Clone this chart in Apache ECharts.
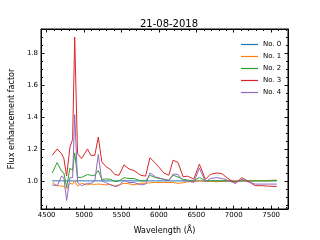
<!DOCTYPE html>
<html><head><meta charset="utf-8">
<script src="https://cdn.jsdelivr.net/npm/echarts@6/dist/echarts.min.js"></script>
<style>html,body{margin:0;padding:0;background:#fff}#c{width:320px;height:240px}</style>
</head><body><div id="c"></div>
<script>
var title = '21-08-2018';
var seriesNames = ['No. 0', 'No. 1', 'No. 2', 'No. 3', 'No. 4'];
var wavelength = [4575,4640,4700,4730,4767,4811,4847,4875,4913,4967,5046,5090,5144,5190,5237,5290,5356,5410,5467,5533,5600,5667,5756,5822,5880,5955,6066,6132,6190,6255,6324,6385,6465,6541,6621,6687,6776,6843,6909,7020,7109,7184,7286,7375,7463,7575];
var no0 = [1,1,1,1,1,1,1,1,1,1,1,1,1,1,1,1,1,1,1,1,1,1,1,1,1,1,1,1,1,1,1,1,1,1,1,1,1,1,1,1,1,1,1,1,1,1];
var no1 = [0.99,0.97,0.968,0.965,0.95,0.985,0.98,1.0,0.968,0.985,0.975,0.98,0.978,0.98,0.978,0.975,0.978,0.968,0.975,0.985,0.982,0.975,0.985,0.985,0.988,0.99,0.99,0.99,0.99,0.985,0.988,0.995,0.995,1.0,0.998,0.997,0.995,0.997,0.998,1.0,1.0,1.0,1.0,1.002,1.003,1.005];
var no2 = [1.05,1.115,1.06,1.05,0.96,1.08,1.065,1.175,1.022,1.022,1.04,1.035,1.035,1.065,1.01,1.012,1.01,0.995,1.0,1.02,1.015,1.015,1.0,1.0,1.035,1.02,1.01,1.005,1.035,1.025,1.01,1.005,1.0,1.022,1.0,1.0,1.0,1.0,1.0,0.995,1.0,1.0,1.0,1.0,1.0,1.002];
var no3 = [1.16,1.20,1.17,1.14,1.03,1.21,1.26,1.90,1.17,1.14,1.20,1.16,1.16,1.275,1.12,1.09,1.07,1.04,1.035,1.10,1.075,1.065,1.035,1.03,1.145,1.11,1.05,1.035,1.13,1.115,1.025,1.03,1.01,1.105,1.01,1.04,1.05,1.045,1.02,0.985,1.02,1.0,0.97,0.97,0.967,0.965];
var no4 = [0.975,0.97,1.03,1.02,0.877,1.02,1.02,1.415,0.99,0.97,0.985,0.985,1.0,1.165,1.0,0.99,0.975,0.965,0.97,1.005,0.99,0.99,0.975,0.98,1.05,1.025,1.01,1.0,1.043,1.04,1.0,1.0,0.99,1.08,0.995,1.015,1.02,1.015,1.005,0.985,1.01,0.995,0.98,0.98,0.98,0.98];
var xTicks = [4500,5000,5500,6000,6500,7000,7500];
var yTicks = [1.0,1.2,1.4,1.6,1.8];
var xName = 'Wavelength (Å)';
var yName = 'Flux enhancement factor';

var colors = ['#1f77b4','#ff7f0e','#2ca02c','#d62728','#9467bd'];
var allSeries = [no0,no1,no2,no3,no4];
var xMinor = []; for (var v = 4500; v <= 7700; v += 100) xMinor.push(v);
var yMinor = []; for (var k = 17; k <= 39; k++) yMinor.push(+(k*0.05).toFixed(2));
var XMIN = 4425, XMAX = 7725, YMIN = 0.824, YMAX = 1.951;
var font = 'DejaVu Sans';
function LINE(){ return {show:true, onZero:false, lineStyle:{color:'#000'}}; }
function NOLINE(){ return {show:false, onZero:false}; }
function tick(vals, len){ return {show:true, inside:true, length:len, customValues:vals, lineStyle:{color:'#111'}}; }
function lab(){ return {fontSize:7, fontFamily:font, color:'#000', margin:3}; }
var nameStyle = {fontSize:8, fontFamily:font, color:'#000'};
var chart = echarts.init(document.getElementById('c'));
chart.setOption({
  animation:false,
  title:{text:title, left:164, top:13, textAlign:'center',
    textStyle:{fontSize:10, fontWeight:'normal', fontFamily:font, color:'#000', lineHeight:12}},
  grid:{left:40, right:32, top:29, bottom:26, show:true, borderColor:'#000', borderWidth:1, backgroundColor:'transparent'},
  legend:{orient:'vertical', left:236, top:35, icon:'rect', itemWidth:17, itemHeight:1.2, itemGap:3,
    textStyle:{fontSize:7, fontFamily:font, color:'#000', lineHeight:9},
    data: seriesNames},
  xAxis:[
   {type:'value',position:'bottom',min:XMIN,max:XMAX,splitLine:{show:false},axisLine:LINE(),axisTick:tick(xTicks,3.5),
    axisLabel:Object.assign({customValues:xTicks,formatter:function(v){return String(v);}},lab()),
    name:xName,nameLocation:'middle',nameGap:18,nameTextStyle:nameStyle},
   {type:'value',position:'bottom',min:XMIN,max:XMAX,splitLine:{show:false},axisLine:NOLINE(),axisTick:tick(xMinor,2),axisLabel:{show:false}},
   {type:'value',position:'top',min:XMIN,max:XMAX,splitLine:{show:false},axisLine:LINE(),axisTick:tick(xTicks,3.5),axisLabel:{show:false}},
   {type:'value',position:'top',min:XMIN,max:XMAX,splitLine:{show:false},axisLine:NOLINE(),axisTick:tick(xMinor,2),axisLabel:{show:false}}
  ],
  yAxis:[
   {type:'value',position:'left',min:YMIN,max:YMAX,splitLine:{show:false},axisLine:LINE(),axisTick:tick(yTicks,3.5),
    axisLabel:Object.assign({customValues:yTicks,formatter:function(v){return v.toFixed(1);}},lab()),
    name:yName,nameLocation:'middle',nameGap:22,nameTextStyle:nameStyle},
   {type:'value',position:'left',min:YMIN,max:YMAX,splitLine:{show:false},axisLine:NOLINE(),axisTick:tick(yMinor,2),axisLabel:{show:false}},
   {type:'value',position:'right',min:YMIN,max:YMAX,splitLine:{show:false},axisLine:LINE(),axisTick:tick(yTicks,3.5),axisLabel:{show:false}},
   {type:'value',position:'right',min:YMIN,max:YMAX,splitLine:{show:false},axisLine:NOLINE(),axisTick:tick(yMinor,2),axisLabel:{show:false}}
  ],
  series: allSeries.map(function(vals, i){
    return {name:seriesNames[i], type:'line', xAxisIndex:0, yAxisIndex:0, showSymbol:false,
      symbol:'none', lineStyle:{width:1, color:colors[i]}, itemStyle:{color:colors[i]},
      data: wavelength.map(function(w, j){return [w, vals[j]];})};
  })
});
</script></body></html>
